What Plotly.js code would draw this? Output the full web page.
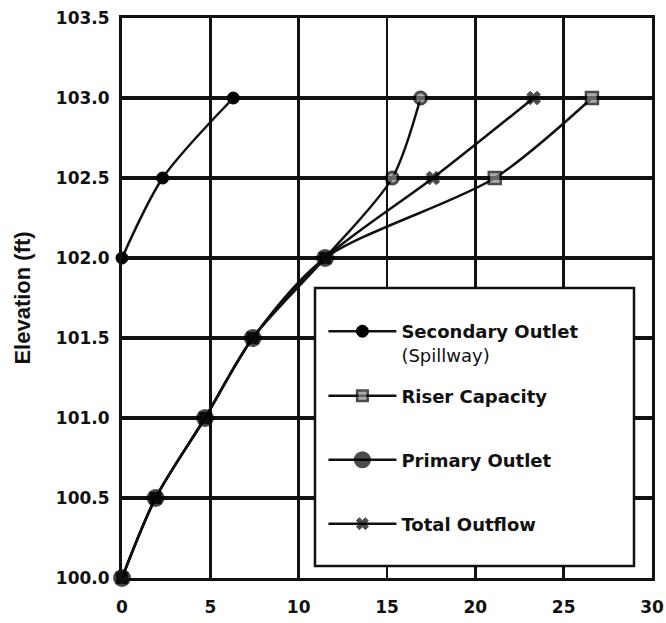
<!DOCTYPE html>
<html>
<head>
<meta charset="utf-8">
<script src="https://cdn.plot.ly/plotly-3.0.1.min.js"></script>
<style>html,body{margin:0;padding:0;background:#fff;}#chart{width:666px;height:623px;}</style>
</head>
<body>
<div id="chart"></div>
<script>
// Elevation (ft) for each stage
var elevation = [100.0, 100.5, 101.0, 101.5, 102.0, 102.5, 103.0];
// Discharge values
var riserCapacity = [0, 1.9, 4.7, 7.4, 11.5, 21.1, 26.6];
var primaryOutlet = [0, 1.9, 4.7, 7.4, 11.5, 15.3, 16.9];
var totalOutflow = [0, 1.9, 4.7, 7.4, 11.5, 17.6, 23.3];
var secondaryElevation = [102.0, 102.5, 103.0];
var secondaryOutlet = [0, 2.3, 6.3];

var xTicks = [0, 5, 10, 15, 20, 25, 30];
var yTicks = [100.0, 100.5, 101.0, 101.5, 102.0, 102.5, 103.0, 103.5];
var yTickLabels = ['100.0', '100.5', '101.0', '101.5', '102.0', '102.5', '103.0', '103.5'];

var ink = '#000000';
var grey = '#8a8a8a';
var lineStyle = {color: '#111111', width: 2.5, shape: 'spline', smoothing: 0.8};

// where the curves coincide, the stacked markers merge into one solid round blob
var shared = primaryOutlet.map(function (v, i) { return v === riserCapacity[i]; });
var primaryColors = shared.map(function (s) { return s ? ink : grey; });
var primarySizes = shared.map(function (s) { return s ? 16 : 12; });
var primaryEdges = shared.map(function (s) { return s ? 2 : 3; });
var riserSizes = shared.map(function (s) { return s ? 10 : 12; });
var totalSizes = shared.map(function (s) { return s ? 10 : 12; });

var traces = [
  {
    x: riserCapacity, y: elevation, mode: 'lines+markers', name: '<b>Riser Capacity</b>',
    line: lineStyle, cliponaxis: false, legend: 'legend2',
    marker: {symbol: 'square', size: riserSizes, color: grey, line: {color: ink, width: 2.5}}
  },
  {
    x: totalOutflow, y: elevation, mode: 'lines+markers', name: '<b>Total Outflow</b>',
    line: lineStyle, cliponaxis: false, legend: 'legend4',
    marker: {symbol: 'x', size: totalSizes, color: ink, line: {color: ink, width: 1}}
  },
  {
    x: primaryOutlet, y: elevation, mode: 'lines+markers', name: '<b>Primary Outlet</b>',
    line: lineStyle, cliponaxis: false, legend: 'legend3',
    marker: {symbol: 'circle', size: primarySizes, color: primaryColors, line: {color: ink, width: primaryEdges}}
  },
  {
    x: secondaryOutlet, y: secondaryElevation, mode: 'lines+markers', name: '<b>Secondary Outlet</b><br>(Spillway)',
    line: lineStyle, cliponaxis: false, legend: 'legend',
    marker: {symbol: 'circle', size: 12, color: ink, line: {color: ink, width: 1}}
  }
];

var legendFont = {family: 'DejaVu Sans, Arial, sans-serif', size: 18, color: '#111'};
function leg(y, valign) {
  return {x: 0.38, xanchor: 'left', y: y, yanchor: 'middle', bgcolor: 'rgba(0,0,0,0)',
          borderwidth: 0, font: legendFont, itemwidth: 68, valign: valign || 'middle',
          itemclick: false, itemdoubleclick: false};
}

var layout = {
  width: 666, height: 623,
  margin: {l: 122, r: 14, t: 18, b: 45},
  paper_bgcolor: '#fff', plot_bgcolor: '#fff',
  showlegend: true,
  legend: leg((578 - 343) / 560, 'top'),
  legend2: leg((578 - 396) / 560),
  legend3: leg((578 - 460) / 560),
  legend4: leg((578 - 524) / 560),
  xaxis: {
    range: [0, 30], tickvals: xTicks, ticktext: xTicks.map(String),
    showgrid: true, gridcolor: '#111', gridwidth: 2.5,
    showline: true, linecolor: '#111', linewidth: 3, mirror: true,
    zeroline: false, ticks: '', ticklabelstandoff: 12,
    tickfont: {family: 'DejaVu Sans, Arial, sans-serif', size: 17, weight: 'bold', color: '#111'}
  },
  yaxis: {
    range: [100, 103.5], tickvals: yTicks, ticktext: yTickLabels,
    showgrid: true, gridcolor: '#111', gridwidth: 3.5,
    showline: true, linecolor: '#111', linewidth: 3, mirror: true,
    zeroline: false, ticks: '', ticklabelstandoff: 6,
    tickfont: {family: 'DejaVu Sans, Arial, sans-serif', size: 17, weight: 'bold', color: '#111'},
    title: {text: 'Elevation (ft)', standoff: 20,
            font: {family: 'Liberation Sans, Arial, sans-serif', size: 22, weight: 'bold', color: '#111'}}
  },
  shapes: [{
    type: 'rect', xref: 'paper', yref: 'paper', layer: 'above',
    x0: (315 - 122) / 530, x1: (634 - 122) / 530,
    y0: (578 - 566) / 560, y1: (578 - 288) / 560,
    fillcolor: '#fff', line: {color: '#111', width: 2.5}
  }]
};

Plotly.newPlot('chart', traces, layout, {staticPlot: true, displayModeBar: false});
</script>
</body>
</html>
